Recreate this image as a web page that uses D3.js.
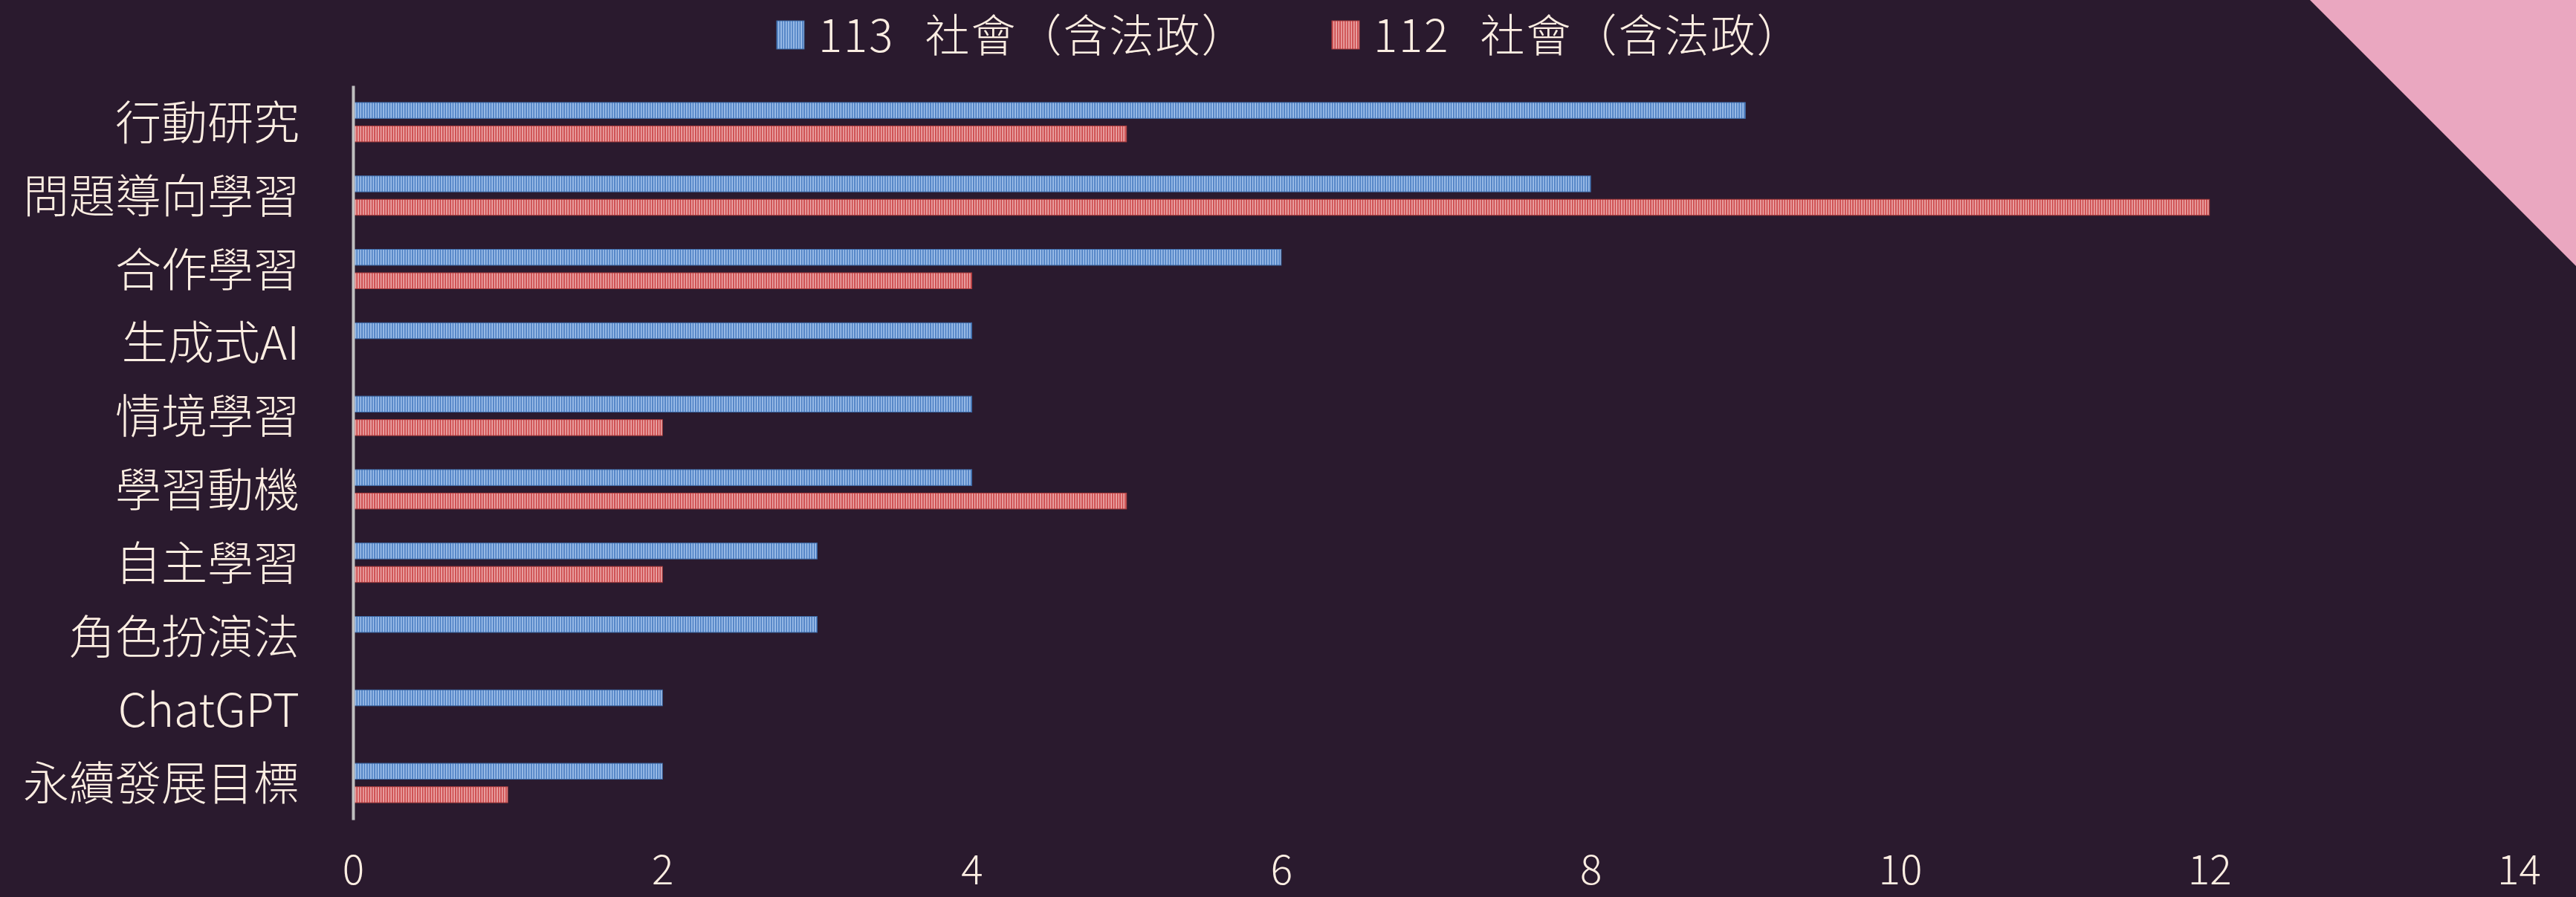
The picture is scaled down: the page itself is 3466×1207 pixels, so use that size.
<!DOCTYPE html>
<html>
<head>
<meta charset="utf-8">
<script src="https://cdn.jsdelivr.net/npm/d3@7"></script>
<style>
	html, body { margin: 0; padding: 0; background: #2a1a2e; overflow: hidden; }
	text { font-family: "Noto Sans CJK TC", "Noto Sans", sans-serif; fill: #fdeee2; font-weight: 300; }
</style>
</head>
<body>
<div id="chart"></div>
<script>
// data ///////////////////////////////////////////////////////////////////////////
var categories = ['行動研究', '問題導向學習', '合作學習', '生成式AI', '情境學習',
	'學習動機', '自主學習', '角色扮演法', 'ChatGPT', '永續發展目標'];
var seriesNames = ['113 社會（含法政）', '112 社會（含法政）'];
var values113 = [9, 8, 6, 4, 4, 4, 3, 3, 2, 2];
var values112 = [5, 12, 4, 0, 2, 5, 2, 0, 0, 1];
var xTicks = [0, 2, 4, 6, 8, 10, 12, 14];

var width = 3466, height = 1207;
var bg = '#2a1a2e';
var colors = [
	{ id: 'pat113', dark: '#4f81c4', light: '#aac8ee', edge: '#3d6aa6' },
	{ id: 'pat112', dark: '#cc4a4c', light: '#efb3b3', edge: '#a83c3e' }
];

var svg = d3.select('#chart').append('svg')
	.attr('width', width)
	.attr('height', height);

svg.append('rect').attr('width', width).attr('height', height).attr('fill', bg);

// corner decoration
svg.append('path')
	.attr('d', 'M3108,0 L' + width + ',0 L' + width + ',358 Z')
	.attr('fill', '#eaa7c0');

// stripe patterns
var defs = svg.append('defs');
colors.forEach(function(c) {
	var p = defs.append('pattern')
		.attr('id', c.id)
		.attr('patternUnits', 'userSpaceOnUse')
		.attr('width', 3.4)
		.attr('height', 10);
	p.append('rect').attr('width', 3.4).attr('height', 10).attr('fill', c.light);
	p.append('rect').attr('width', 1.9).attr('height', 10).attr('fill', c.dark);
});

// scales ///////////////////////////////////////////////////////////////////////////
var x = d3.scaleLinear().domain([0, 14]).range([475, 3389]);
var y = d3.scaleBand().domain(categories).range([115, 1103]).paddingInner(0).paddingOuter(0);
var groupH = 53;
var ySub = d3.scaleBand().domain([0, 1]).range([0, groupH]).paddingInner(0.32);

var rows = categories.map(function(c, i) {
	return { cat: c, vals: [values113[i], values112[i]] };
});

var g = svg.append('g');
var rowG = g.selectAll('.row')
	.data(rows)
	.enter().append('g')
	.attr('class', 'row')
	.attr('transform', function(d) {
		return 'translate(0,' + (y(d.cat) + (y.bandwidth() - groupH) / 2) + ')';
	});

rowG.selectAll('rect')
	.data(function(d) { return d.vals.map(function(v, k) { return { v: v, k: k }; }); })
	.enter().filter(function(d) { return d.v > 0; })
	.append('rect')
	.attr('x', x(0) + 1)
	.attr('y', function(d) { return ySub(d.k); })
	.attr('width', function(d) { return x(d.v) - x(0) - 1; })
	.attr('height', ySub.bandwidth())
	.attr('fill', function(d) { return 'url(#' + colors[d.k].id + ')'; })
	.attr('stroke', function(d) { return colors[d.k].edge; })
	.attr('stroke-width', 1);

// axes ///////////////////////////////////////////////////////////////////////////
var yAxis = svg.append('g')
	.attr('transform', 'translate(' + x(0) + ',0)')
	.call(d3.axisLeft(y).tickSize(0).tickSizeOuter(0).tickPadding(72));
yAxis.select('.domain').attr('stroke', '#bfbfbf').attr('stroke-width', 4);
yAxis.selectAll('text')
	.attr('font-size', 62)
	.attr('dy', '0.38em')
	.style('font-family', '"Noto Sans CJK TC", sans-serif')
	.style('font-weight', 300)
	.attr('fill', '#fdeee2');

var xAxis = svg.append('g')
	.attr('transform', 'translate(0,1103)')
	.call(d3.axisBottom(x).tickValues(xTicks).tickSize(0).tickPadding(48));
xAxis.select('.domain').remove();
xAxis.selectAll('text')
	.attr('font-size', 55)
	.style('font-family', '"Noto Sans CJK TC", sans-serif')
	.style('font-weight', 300)
	.attr('fill', '#fdeee2');

// legend ///////////////////////////////////////////////////////////////////////////
var legendX = [1045, 1792];
var legend = svg.selectAll('.legend')
	.data(seriesNames)
	.enter().append('g')
	.attr('class', 'legend')
	.attr('transform', function(d, i) { return 'translate(' + legendX[i] + ',0)'; });
legend.append('rect')
	.attr('x', 0).attr('y', 28)
	.attr('width', 37).attr('height', 38)
	.attr('fill', function(d, i) { return 'url(#' + colors[i].id + ')'; })
	.attr('stroke', function(d, i) { return colors[i].edge; })
	.attr('stroke-width', 1);
legend.append('text')
	.attr('x', 56)
	.attr('y', 70)
	.attr('font-size', 60)
	.style('word-spacing', '26px')
	.style('letter-spacing', '2px')
	.text(function(d) { return d; });
</script>
</body>
</html>
